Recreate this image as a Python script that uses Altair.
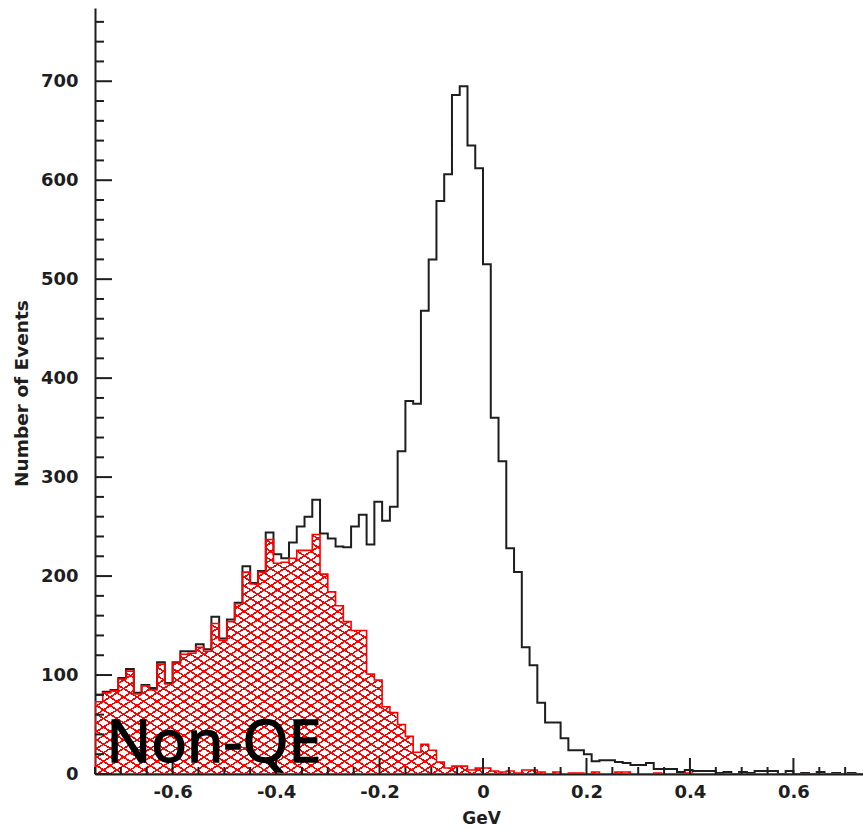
import altair as alt
import pandas as pd

# ---------------- data ----------------
bin_start = -0.75
bin_width = 0.015

all_events = [
    80, 83, 85, 97, 106, 82, 90, 87, 113, 92,
    113, 124, 124, 131, 126, 159, 137, 156, 173, 210,
    193, 205, 244, 222, 218, 234, 250, 260, 277, 243,
    238, 230, 229, 250, 262, 232, 275, 256, 270, 326,
    377, 374, 468, 520, 579, 606, 686, 695, 635, 612,
    515, 360, 316, 228, 204, 128, 110, 72, 52, 52,
    36, 24, 24, 20, 13, 14, 14, 12, 11, 9,
    9, 11, 5, 5, 5, 2, 4, 3, 3, 3,
    1, 2, 0, 2, 1, 3, 3, 3, 0, 3,
    0, 1, 0, 2, 0, 1, 0, 1, 0, 0,
]

non_qe = [
    73, 82, 84, 96, 104, 81, 89, 85, 111, 91,
    112, 121, 122, 128, 124, 152, 135, 154, 172, 204,
    192, 204, 237, 213, 214, 218, 226, 226, 242, 202,
    184, 170, 154, 145, 145, 101, 95, 68, 62, 50,
    38, 22, 30, 24, 12, 6, 8, 8, 4, 6,
    6, 3, 2, 3, 1, 4, 4, 2, 0, 2,
    0, 1, 1, 0, 2, 0, 0, 2, 2, 0,
    0, 0, 1, 0, 0, 0, 1, 0, 0, 0,
    0, 0, 0, 0, 0, 0, 0, 0, 0, 0,
    0, 0, 0, 0, 0, 0, 0, 0, 0, 0,
]

y_label_values = [0, 100, 200, 300, 400, 500, 600, 700]
y_minor_ticks = [v for v in range(0, 775, 20) if v % 100 != 0]
x_label_values = [-0.6, -0.4, -0.2, 0, 0.2, 0.4, 0.6]
x_minor_ticks = [-0.75, -0.7, -0.65, -0.55, -0.5, -0.45, -0.35, -0.3, -0.25,
                 -0.15, -0.1, -0.05, 0.05, 0.1, 0.15, 0.25, 0.3, 0.35,
                 0.45, 0.5, 0.55, 0.65, 0.7]

label_text = ["Non-QE"]
label_x = [-0.728]
label_y = [12]

# ---------------- layout ----------------
W, H = 768, 766
X_DOMAIN = [-0.75, 0.7345]
Y_DOMAIN = [0, 774]

n = len(all_events)
edges = [round(bin_start + i * bin_width, 4) for i in range(n + 1)]
hist = pd.DataFrame({
    "x": edges,
    "all": all_events + [all_events[-1]],
    "nonqe": non_qe + [non_qe[-1]],
})

xscale = alt.Scale(domain=X_DOMAIN, nice=False, zero=False)
yscale = alt.Scale(domain=Y_DOMAIN, nice=False, zero=True)

FONT = "DejaVu Sans"
INK = "#1e1e1e"


def hatch_stops(period, frac, color):
    clear = "rgba(255,0,0,0)"
    stops = []
    t = 0.0
    while t < 1.0:
        a = round(t, 5)
        b = round(min(t + period * frac, 1.0), 5)
        c = round(min(t + period, 1.0), 5)
        stops += [
            alt.GradientStop(color=color, offset=a),
            alt.GradientStop(color=color, offset=b),
            alt.GradientStop(color=clear, offset=b),
            alt.GradientStop(color=clear, offset=c),
        ]
        t += period
    return stops


# diagonal cross-hatch built from two striped linear gradients
k = 0.4825
period = 0.014
hatch_a = alt.LinearGradient(gradient="linear", stops=hatch_stops(period, 0.22, "#ff0000"),
                             x1=0, y1=0, x2=1, y2=k)
hatch_b = alt.LinearGradient(gradient="linear", stops=hatch_stops(period, 0.22, "#ff0000"),
                             x1=0, y1=1, x2=1, y2=1 - k)

x_axis = alt.Axis(
    values=x_label_values, tickSize=0, grid=False,
    labelPadding=9, labelFont=FONT, labelFontWeight="bold", labelFontSize=18, labelColor=INK,
    labelExpr="datum.value == 0 ? '0' : (datum.value < 0 ? '-' : '') + format(abs(datum.value), '.1f')",
    domainColor=INK, domainWidth=2,
    title="GeV", titleFont=FONT, titleFontWeight="bold", titleFontSize=17, titleColor=INK,
    titleX=386, titleY=44, titleBaseline="middle", titleAlign="center",
)
y_axis = alt.Axis(
    values=y_label_values, tickSize=0, grid=False,
    labelPadding=17, labelFont=FONT, labelFontWeight="bold", labelFontSize=18, labelColor=INK,
    domainColor=INK, domainWidth=2,
    title="Number of Events", titleFont=FONT, titleFontWeight="bold", titleFontSize=18.5,
    titleColor=INK, titleAngle=-90, titleX=-74, titleY=385, titleBaseline="middle",
    titleAlign="center",
)


def X(field):
    return alt.X(field, scale=xscale, axis=x_axis)


def Y(field):
    return alt.Y(field, scale=yscale, axis=y_axis)


base = alt.Chart(hist)

total_line = base.mark_line(interpolate="step-after", color=INK, strokeWidth=2, clip=True).encode(
    x=X("x:Q"), y=Y("all:Q"),
)

red_a = base.mark_area(interpolate="step-after", fill=hatch_a, stroke="#ff0000",
                       strokeWidth=1.6, clip=True).encode(x=X("x:Q"), y=Y("nonqe:Q"))
red_b = base.mark_area(interpolate="step-after", fill=hatch_b, strokeWidth=0,
                       clip=True).encode(x=X("x:Q"), y=Y("nonqe:Q"))

yt_major = alt.Chart(pd.DataFrame({"v": y_label_values})).mark_rule(color=INK, strokeWidth=2).encode(
    y=Y("v:Q"), x=alt.value(0), x2=alt.value(17))
yt_minor = alt.Chart(pd.DataFrame({"v": y_minor_ticks})).mark_rule(color=INK, strokeWidth=2).encode(
    y=Y("v:Q"), x=alt.value(0), x2=alt.value(9))
xt_major = alt.Chart(pd.DataFrame({"v": x_label_values})).mark_rule(color=INK, strokeWidth=2).encode(
    x=X("v:Q"), y=alt.value(H), y2=alt.value(H - 16))
xt_minor = alt.Chart(pd.DataFrame({"v": x_minor_ticks})).mark_rule(color=INK, strokeWidth=2).encode(
    x=X("v:Q"), y=alt.value(H), y2=alt.value(H - 7))

label = alt.Chart(pd.DataFrame({"t": label_text, "x": label_x, "y": label_y})).mark_text(
    font="Noto Sans", fontSize=59, align="left", baseline="alphabetic",
    color="#000000", stroke="#000000", strokeWidth=1.4,
).encode(x=X("x:Q"), y=Y("y:Q"), text="t:N")

chart = alt.layer(
    total_line, red_a, red_b, yt_major, yt_minor, xt_major, xt_minor, label
).properties(
    width=W, height=H,
    padding={"left": 95, "top": 8, "right": 0, "bottom": 56},
    autosize=alt.AutoSizeParams(type="none"),
    background="white",
).configure_view(stroke=None)

chart.save("out.html", embed_options={"renderer": "svg", "actions": False})
